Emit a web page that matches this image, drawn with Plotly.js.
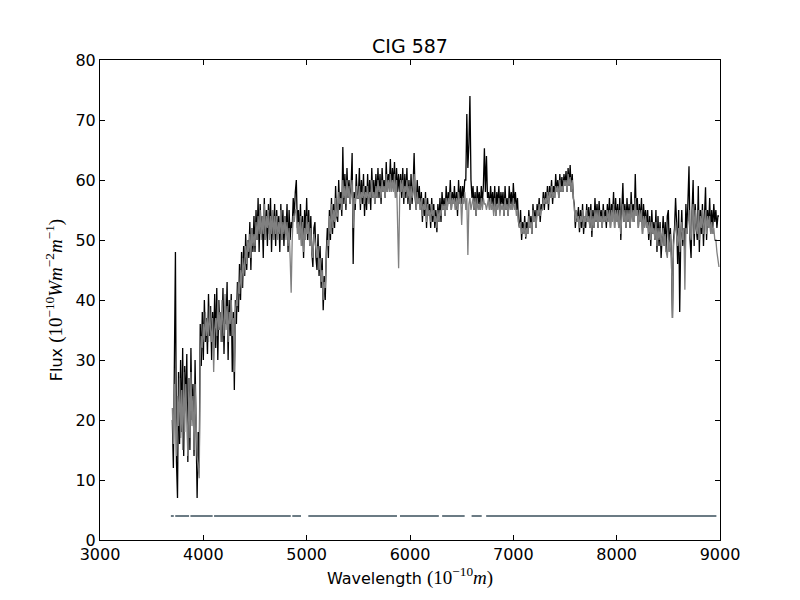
<!DOCTYPE html>
<html><head><meta charset="utf-8">
<script src="https://cdn.plot.ly/plotly-3.0.1.min.js"></script>
<style>body{margin:0;background:#fff}</style>
</head><body><div id="chart" style="width:800px;height:600px"></div>
<script>
// Wavelength grid (Angstrom)
const wavelengthStart = 3700;
const wavelengthStep = 10;

// Observed spectrum (black), one row per 200 A
const observedFlux = [
  20, 12, 30, 48, 13, 7, 28, 16, 30, 18, 32, 14, 29, 22, 31, 13, 27, 15, 32, 20,
  26, 14, 30, 21, 7, 18, 12, 36, 29, 38, 30, 40, 33, 37, 31, 41, 34, 39, 30, 38,
  33, 41, 32, 42, 30, 40, 35, 38, 33, 42, 31, 39, 36, 43, 30, 40, 34, 41, 28, 38,
  25, 40, 36, 43, 38, 46, 40, 48, 42, 49, 44, 51, 45, 50, 47, 53, 45, 52, 48, 54,
  48, 55, 50, 57, 48, 56, 51, 54, 47, 57, 50, 55, 49, 56, 51, 57, 48, 55, 50, 56,
  49, 55, 51, 54, 48, 56, 50, 55, 49, 54, 51, 56, 48, 55, 50, 53, 52, 57, 54, 58,
  60, 52, 55, 50, 56, 49, 54, 47, 55, 51, 57, 50, 55, 49, 54, 48, 45.5, 52, 53, 47,
  45, 51, 44, 49, 42, 47, 38.3, 44, 40, 48, 52, 47, 55, 50, 57, 51, 56, 52, 59, 54,
  53, 60, 55, 58, 54, 65.5, 56, 61, 55, 62, 57, 60, 56, 59, 64.5, 46, 58, 55, 61, 57,
  57, 62, 55, 60, 56, 61, 54, 59, 55, 61, 56, 60, 55, 62, 57, 60, 56, 61, 57, 62,
  57, 61, 56, 62, 58, 60, 57, 63, 58, 61, 59, 63.5, 58, 62, 59, 63, 57, 62, 58, 61,
  58, 61, 57, 62, 56, 61, 57, 62, 56, 60, 55, 61, 56, 59, 64.5, 57, 55, 60, 56, 59,
  55, 58, 53, 57, 54, 58, 52, 57, 54, 56, 52, 57, 53, 56, 52, 55, 51.3, 56, 53, 57,
  53, 58, 55, 57, 54, 59, 55, 58, 56, 60, 55, 58, 56, 59, 55, 58, 54, 60, 56, 59,
  56, 59, 57, 60, 60, 71, 62, 66, 74, 60, 57, 59, 55, 58, 54, 59, 56, 58, 55, 59,
  56, 59, 65.3, 58, 64, 57, 58, 55, 59, 56, 58, 55, 59, 54, 58, 56, 59, 55, 58, 56,
  58, 54, 59, 55, 57, 54, 59, 56, 58, 55, 59.5, 56, 58, 55, 57, 53, 52, 55, 50, 53,
  51, 54, 50.2, 53, 51, 55, 52, 54, 51, 56, 53, 55, 52, 56, 54, 57, 53, 56, 55, 58,
  55, 58, 56, 59, 55, 59, 57, 60, 56, 59, 57, 61, 58, 60, 57, 61, 58, 60.5, 58, 61,
  59, 61.5, 58, 62, 59, 62.5, 58, 61, 57, 56, 52, 55, 53, 55.5, 51.3, 55, 52, 56, 51, 54,
  52, 56, 53, 55.5, 52, 56, 50.5, 55, 52, 57, 53, 56, 52, 56.5, 53, 55, 52, 56, 53, 55,
  52, 56, 53, 57, 52, 56, 54, 58, 52, 57, 53, 56, 52, 57, 50, 55, 59.5, 53, 56, 52,
  57, 53, 56, 52, 58, 54, 56, 53, 61, 54, 57, 52, 56, 53, 57, 51, 56, 53, 55, 52,
  55, 50, 54, 49, 55, 51, 53, 50, 55, 48, 54, 49, 53, 47, 52, 54, 49, 53, 48, 54,
  55, 48, 52, 47, 37, 50, 52, 57, 53, 46, 55, 38, 50, 55, 49, 52, 48, 56, 51, 58,
  62.3, 50, 47, 55, 60, 49, 56, 52, 50, 59, 48, 55, 51, 56, 49, 54, 58.8, 50, 55, 52,
  57, 51, 55, 52, 56, 53, 55, 52, 54, 54
];

// Model spectrum (grey), one row per 200 A
const modelFlux = [
  22, 16, 26, 20, 14, 24, 19, 27, 17, 25, 15, 28, 18, 26, 20, 14, 27, 17, 28, 19,
  24, 15, 26, 18, 14, 12, 10.3, 30, 34, 32, 36, 33, 38, 34, 37, 33, 39, 35, 33, 37,
  28, 35, 37, 34, 40, 35, 38, 33, 40, 36, 34, 41, 35, 39, 33, 38, 36, 40, 34, 37,
  28, 38, 40, 39, 43, 41, 45, 42, 47, 44, 46, 49, 46, 50, 48, 51, 47, 52, 49, 51,
  49, 53, 50, 54, 51, 55, 50, 54, 51, 56, 50, 54, 52, 55, 50, 54, 51, 55, 50, 54,
  51, 54, 50, 53, 51, 55, 50, 53, 51, 54, 50, 53, 49, 52, 47, 41.2, 50, 54, 53, 55,
  55, 51, 53, 50, 54, 49, 53, 48, 52, 50, 54, 51, 53, 49, 52, 48, 47, 51, 50, 48,
  47, 49, 45, 47, 43, 45, 40, 43, 42, 47, 50, 49, 54, 51, 56, 52, 55, 53, 57, 54,
  54, 58, 56, 57, 55, 60, 57, 59, 56, 60, 57, 59, 56, 58, 60, 52, 57, 56, 59, 57,
  57, 59, 56, 58, 57, 59, 56, 58, 57, 59, 56, 58, 57, 60, 57, 58, 56, 59, 57, 60,
  58, 59, 57, 60, 58, 59, 57, 61, 58, 60, 58, 61, 58, 60, 58, 61, 57, 60, 52, 45.3,
  57, 60, 58, 60, 57, 59, 58, 60, 57, 59, 56, 59, 57, 58, 61, 57, 55, 58, 56, 57,
  55, 57, 54, 56, 55, 57, 53, 56, 54, 55, 53, 56, 54, 55, 53, 54, 52, 55, 53, 55,
  54, 56, 55, 56, 54, 57, 55, 57, 56, 58, 55, 57, 56, 57, 55, 57, 55, 58, 56, 57,
  52.5, 57, 56, 58, 55, 57, 47.5, 56, 57, 55, 56, 57, 55, 57, 54, 57, 55, 56, 55, 57,
  55, 57, 56, 56, 55, 56, 57, 55, 57, 55, 56, 54, 57, 54, 56, 55, 57, 54, 56, 55,
  56, 54, 57, 55, 56, 54, 57, 55, 56, 55, 57, 55, 56, 54, 55, 53, 52, 53, 51, 52,
  51, 53, 50.5, 52, 51, 54, 52, 53, 51, 55, 53, 54, 52, 55, 54, 56, 54, 55, 55, 57,
  56, 57, 56, 58, 56, 58, 57, 59, 57, 58, 57, 59, 58, 59, 57, 60, 58, 59, 58, 60,
  59, 60, 58, 61, 59, 60.5, 58, 60, 57, 56, 53, 55, 53, 54, 52, 54, 53, 55, 52, 54,
  53, 55, 53, 54, 52, 55, 51.5, 54, 52, 55, 53, 55, 52, 55, 53, 54, 52, 55, 53, 54,
  53, 55, 53, 55, 52, 55, 53, 56, 52, 55, 53, 55, 52, 55, 51, 54, 56, 53, 55, 52,
  55, 53, 55, 52, 56, 53, 55, 53, 57, 54, 55, 52, 55, 53, 55, 51, 54, 52, 54, 52,
  53, 51, 53, 50, 53, 51, 52, 50, 53, 49, 52, 50, 52, 49, 51, 52, 49, 51, 48, 47,
  50, 48, 51, 47, 37, 49, 51, 53, 51, 49, 52, 48, 51, 53, 50, 52, 41.7, 52, 51, 54,
  55, 51, 50, 54, 56, 51, 55, 52, 51, 55, 50, 54, 52, 55, 51, 53, 55, 51, 54, 52,
  54, 51, 53, 51, 52, 50, 50, 48, 47, 45.5
];

// Fitted-region mask segments (start/end wavelength) and their level
const maskStart = [3686, 3728, 3875, 4104, 4861, 5016, 5903, 6311, 6596, 6737];
const maskEnd   = [3714, 3862, 4090, 4846, 4945, 5874, 6279, 6529, 6694, 8965];
const maskLevel = 4;

const xTicks = [3000, 4000, 5000, 6000, 7000, 8000, 9000];
const yTicks = [0, 10, 20, 30, 40, 50, 60, 70, 80];

const maskX = [], maskY = [];
for (let i = 0; i < maskStart.length; i++) {
  maskX.push(maskStart[i], maskEnd[i], null);
  maskY.push(maskLevel, maskLevel, null);
}

const traces = [
  {type: 'scatter', mode: 'lines', x0: wavelengthStart, dx: wavelengthStep, y: observedFlux,
   line: {color: '#000000', width: 1.3}, hoverinfo: 'skip'},
  {type: 'scatter', mode: 'lines', x0: wavelengthStart, dx: wavelengthStep, y: modelFlux,
   line: {color: '#808080', width: 1.3}, hoverinfo: 'skip'},
  {type: 'scatter', mode: 'lines', x: maskX, y: maskY,
   line: {color: '#6b7b84', width: 2}, hoverinfo: 'skip', connectgaps: false}
];

const mathFont = 'Liberation Serif, DejaVu Serif, serif';
const mathSpan = '<span style="font-family:' + mathFont + ';font-size:19px">';
const layout = {
  width: 800, height: 600,
  paper_bgcolor: '#ffffff', plot_bgcolor: '#ffffff',
  showlegend: false,
  margin: {l: 100, r: 80, t: 60, b: 60, pad: 0},
  font: {family: 'DejaVu Sans, sans-serif', size: 16, color: '#000000'},
  title: {text: 'CIG 587', font: {family: 'DejaVu Sans, sans-serif', size: 19, color: '#000'},
          x: 0.5, xref: 'paper', xanchor: 'center', y: 0.923, yref: 'container', yanchor: 'middle'},
  xaxis: {
    range: [3000, 9000], tickvals: xTicks, ticktext: xTicks.map(String),
    ticks: 'inside', ticklen: 5, tickwidth: 1, tickcolor: '#000',
    showline: true, linecolor: '#000', linewidth: 1, mirror: 'ticks',
    showgrid: false, zeroline: false,
    tickfont: {size: 16},
    title: {text: 'Wavelength ' + mathSpan + '(10<sup>\u221210</sup><i>m</i>)</span>',
            font: {size: 16}, standoff: 4}
  },
  yaxis: {
    range: [0, 80], tickvals: yTicks, ticktext: yTicks.map(String),
    ticks: 'inside', ticklen: 5, tickwidth: 1, tickcolor: '#000',
    showline: true, linecolor: '#000', linewidth: 1, mirror: 'ticks',
    showgrid: false, zeroline: false,
    tickfont: {size: 16},
    title: {text: 'Flux ' + mathSpan + '(10<sup>\u221210</sup><i>Wm</i><sup>\u22122</sup><i>m</i><sup>\u22121</sup>)</span>',
            font: {size: 16}, standoff: 8}
  }
};

Plotly.newPlot('chart', traces, layout, {displayModeBar: false, staticPlot: true});
</script>
</body></html>
